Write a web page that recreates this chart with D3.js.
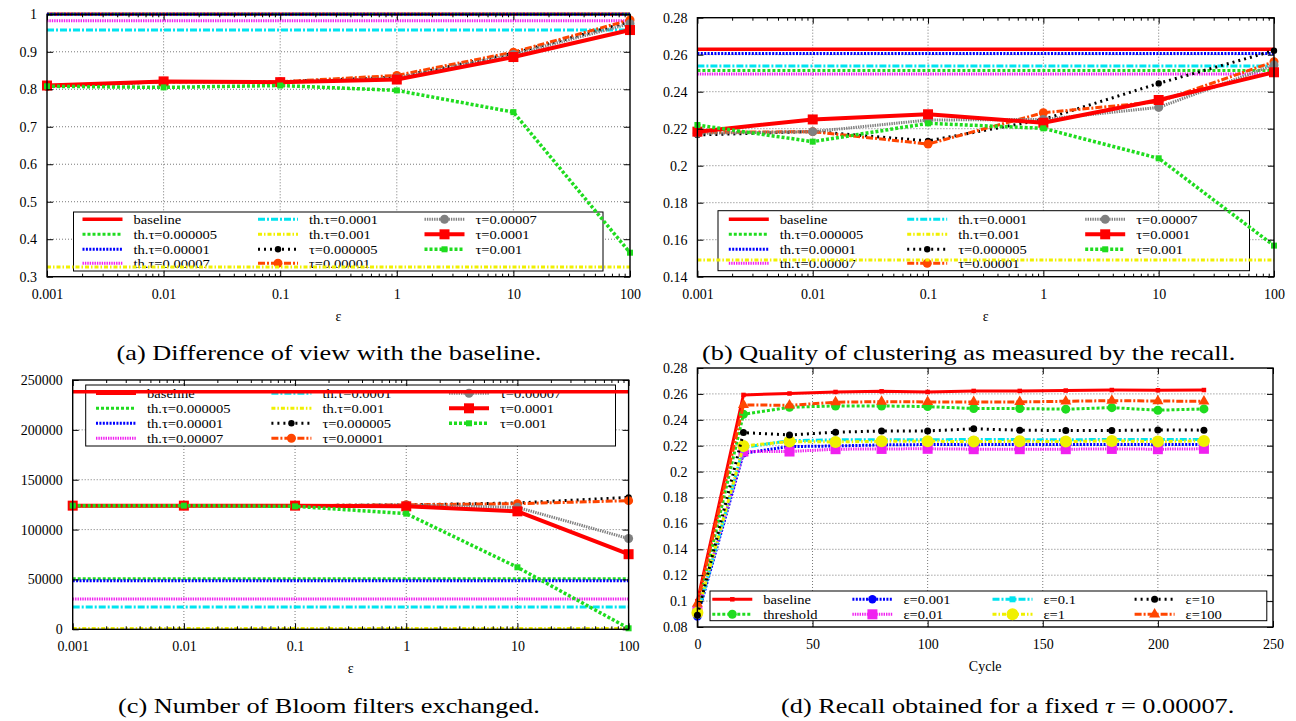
<!DOCTYPE html>
<html>
<head>
<meta charset="utf-8">
<script src="https://cdn.jsdelivr.net/npm/d3@7"></script>
<style>
body { margin: 0; background: #fff; }
svg { display: block; }
text { font-family: "Liberation Serif", Tinos, "Times New Roman", Times, "Nimbus Roman", "DejaVu Serif", serif; fill: #000; }
</style>
</head>
<body>
<svg id="fig" width="1296" height="721"></svg>
<script>
// x values
var epsilon = [0.001, 0.01, 0.1, 1, 10, 100]
var cycles = [0, 20, 40, 60, 80, 100, 120, 140, 160, 180, 200, 220]

// tick labels
var viewTicks = [0.3, 0.4, 0.5, 0.6, 0.7, 0.8, 0.9, 1]
var recallTicks = [0.14, 0.16, 0.18, 0.2, 0.22, 0.24, 0.26, 0.28]
var bloomTicks = [0, 50000, 100000, 150000, 200000, 250000]
var cycleTicks = [0, 50, 100, 150, 200, 250]
var cycleRecallTicks = [0.08, 0.1, 0.12, 0.14, 0.16, 0.18, 0.2, 0.22, 0.24, 0.26, 0.28]

// series names
var epsKeys = ['baseline', 'th5', 'th10', 'th70', 'th100', 'th1000', 't5', 't10', 't70', 't100', 't1000']
var epsLabels = ['baseline', 'th.τ=0.000005', 'th.τ=0.00001', 'th.τ=0.00007', 'th.τ=0.0001', 'th.τ=0.001',
    'τ=0.000005', 'τ=0.00001', 'τ=0.00007', 'τ=0.0001', 'τ=0.001']
var cycKeys = ['cbase', 'thr', 'e0', 'e1', 'e2', 'e3', 'e4', 'e5']
var cycLabels = ['baseline', 'threshold', 'ε=0.001', 'ε=0.01', 'ε=0.1', 'ε=1', 'ε=10', 'ε=100']

// (a) difference of view: flat = baseline + th.τ lines, then the τ curves
var viewFlat = [1, 1, 1, 0.983, 0.958, 0.326]
var viewT5 = [0.808, 0.82, 0.82, 0.832, 0.896, 0.98]
var viewT10 = [0.808, 0.82, 0.82, 0.837, 0.899, 0.985]
var viewT70 = [0.808, 0.82, 0.819, 0.83, 0.893, 0.975]
var viewT100 = [0.81, 0.821, 0.819, 0.826, 0.886, 0.958]
var viewT1000 = [0.808, 0.805, 0.81, 0.797, 0.739, 0.364]

// (b) recall
var recallFlat = [0.2629, 0.2514, 0.2607, 0.2496, 0.2539, 0.149]
var recallT5 = [0.2166, 0.2185, 0.2134, 0.225, 0.2445, 0.2622]
var recallT10 = [0.218, 0.2184, 0.2117, 0.2286, 0.2346, 0.2562]
var recallT70 = [0.2175, 0.2184, 0.2247, 0.225, 0.2315, 0.2544]
var recallT100 = [0.2184, 0.225, 0.2278, 0.2232, 0.2355, 0.2505]
var recallT1000 = [0.222, 0.213, 0.2229, 0.2202, 0.204, 0.1568]

// (c) bloom filters exchanged
var bloomFlat = [238300, 50600, 48700, 30300, 22400, 700]
var bloomT5 = [124000, 124000, 124000, 124800, 126700, 132300]
var bloomT10 = [124000, 124000, 124000, 124800, 126000, 129000]
var bloomT70 = [124000, 124000, 124000, 124500, 122300, 91000]
var bloomT100 = [124000, 124000, 124000, 123300, 118300, 75300]
var bloomT1000 = [124000, 124000, 123300, 116000, 62200, 1000]

// (d) recall over cycles, tau = 0.00007
var cycBaseline = [0.1, 0.2592, 0.2603, 0.2615, 0.262, 0.2615, 0.2623, 0.2623, 0.2626, 0.263, 0.2628, 0.263]
var cycThreshold = [0.093, 0.2443, 0.2497, 0.2507, 0.2507, 0.2502, 0.2487, 0.2487, 0.2482, 0.2494, 0.2474, 0.2484]
var cycEps0001 = [0.088, 0.2142, 0.2193, 0.2198, 0.2206, 0.2209, 0.2208, 0.221, 0.2209, 0.221, 0.2208, 0.221]
var cycEps001 = [0.092, 0.2155, 0.2155, 0.2173, 0.2175, 0.2176, 0.2173, 0.2173, 0.2173, 0.2175, 0.2173, 0.2176]
var cycEps01 = [0.089, 0.2187, 0.2239, 0.2245, 0.2247, 0.2246, 0.2248, 0.2247, 0.2246, 0.2248, 0.2247, 0.2247]
var cycEps1 = [0.091, 0.2198, 0.2232, 0.2229, 0.2234, 0.2234, 0.2232, 0.2234, 0.2232, 0.2237, 0.2232, 0.2237]
var cycEps10 = [0.089, 0.2301, 0.2283, 0.2304, 0.2314, 0.2314, 0.233, 0.232, 0.2317, 0.2317, 0.2322, 0.232]
var cycEps100 = [0.098, 0.2515, 0.2512, 0.2536, 0.254, 0.2538, 0.2538, 0.2538, 0.2543, 0.2548, 0.2545, 0.2543]

var styles = {
    baseline: { c: '#ff0000', w: 3.5 },
    th5: { c: '#1fdc1f', w: 3, d: '3,2' },
    th10: { c: '#0000ff', w: 3, d: '2,1.4' },
    th70: { c: '#f020f0', w: 3, d: '1.4,1' },
    th100: { c: '#00e4f0', w: 3, d: '7,2,2,2' },
    th1000: { c: '#f0f000', w: 3, d: '4,2,1.5,2' },
    t5: { c: '#000000', w: 3, d: '2,4', m: 'circle', s: 3.2 },
    t10: { c: '#ff4500', w: 3, d: '7,2,2,2', m: 'circle', s: 4.5 },
    t70: { c: '#808080', w: 3, d: '1.4,1', m: 'circle', s: 4.5 },
    t100: { c: '#ff0000', w: 4, m: 'square', s: 10 },
    t1000: { c: '#1fdc1f', w: 3.5, d: '3,2', m: 'square', s: 6 },
    cbase: { c: '#ff0000', w: 3, m: 'square', s: 4.5 },
    thr: { c: '#1fdc1f', w: 3, d: '3,2', m: 'circle', s: 4.5 },
    e0: { c: '#0000ff', w: 3, d: '2,1.4', m: 'circle', s: 4.2 },
    e1: { c: '#f020f0', w: 3, d: '1.4,1', m: 'square', s: 10 },
    e2: { c: '#00e4f0', w: 3, d: '7,2,2,2', m: 'square', s: 6 },
    e3: { c: '#f0f000', w: 3, d: '4,2,1.5,2', m: 'circle', s: 6 },
    e4: { c: '#000000', w: 3, d: '2,4', m: 'circle', s: 3.5 },
    e5: { c: '#ff4500', w: 3, d: '7,2,2,2', m: 'triangle', s: 11 }
}

function epsSeries(flat, curves) {
    return epsKeys.map(function (k, i) {
        var vals = i < flat.length ? epsilon.map(function () { return flat[i] }) : curves[i - flat.length]
        return { key: k, label: epsLabels[i], pts: epsilon.map(function (e, j) { return [e, vals[j]] }) }
    })
}

function cycSeries(list) {
    return cycKeys.map(function (k, i) {
        return { key: k, label: cycLabels[i], pts: cycles.map(function (c, j) { return [c, list[i][j]] }) }
    })
}

var svg = d3.select('#fig')
var legendSize = 13, legendSx = 1.12

function symbolPath(st) {
    var t = st.m === 'circle' ? d3.symbolCircle : st.m === 'square' ? d3.symbolSquare : d3.symbolTriangle
    var area = st.m === 'circle' ? Math.PI * st.s * st.s : st.m === 'square' ? st.s * st.s : Math.sqrt(3) / 4 * st.s * st.s
    return d3.symbol().type(t).size(area)()
}

function stroke(sel, st) {
    sel.attr('fill', 'none').attr('stroke', st.c).attr('stroke-width', st.w)
        .attr('stroke-dasharray', st.d || null)
}

function drawPanel(p) {
    var g = svg.append('g')
    var x0 = p.box[0], y0 = p.box[1], x1 = p.box[2], y1 = p.box[3]
    var x = p.log ? d3.scaleLog().domain([0.001, 100]).range([x0, x1])
        : d3.scaleLinear().domain([0, 250]).range([x0, x1])
    var y = d3.scaleLinear().domain(p.yDomain).range([y1, y0])

    // grid
    g.append('g').selectAll('line').data(p.xTicks.slice(1, -1)).join('line')
        .attr('x1', x).attr('x2', x).attr('y1', y0).attr('y2', y1)
        .attr('stroke', '#555').attr('stroke-width', 0.8).attr('stroke-dasharray', '1,2')
    g.append('g').selectAll('line').data(p.yTicks.slice(1, -1)).join('line')
        .attr('x1', x0).attr('x2', x1).attr('y1', y).attr('y2', y)
        .attr('stroke', '#555').attr('stroke-width', 0.8).attr('stroke-dasharray', '1,2')

    // legend
    var L = p.legend
    var lg = g.append('g')
    lg.append('rect').attr('x', L.box[0]).attr('y', L.box[1])
        .attr('width', L.box[2] - L.box[0]).attr('height', L.box[3] - L.box[1])
        .attr('fill', '#fff').attr('stroke', '#000').attr('stroke-width', 1)
    p.series.forEach(function (s, i) {
        var st = styles[s.key]
        var tx = L.cols[Math.floor(i / L.per)], ty = L.rows[i % L.per]
        lg.append('text').attr('font-size', legendSize)
            .attr('transform', 'translate(' + tx + ',' + (ty + 4.5) + ') scale(' + legendSx + ',1)')
            .text(s.label)
        lg.append('line').attr('x1', tx - 51).attr('x2', tx - 11).attr('y1', ty).attr('y2', ty).call(stroke, st)
        if (st.m) lg.append('path').attr('d', symbolPath(st)).attr('fill', st.c)
            .attr('transform', 'translate(' + (tx - 31) + ',' + ty + ')')
    })

    // series
    var line = d3.line().x(function (d) { return x(d[0]) }).y(function (d) { return y(d[1]) })
    p.series.forEach(function (s) {
        var st = styles[s.key]
        g.append('path').datum(s.pts).attr('d', line).call(stroke, st)
            .attr('stroke-linejoin', 'round')
        if (st.m) g.append('g').selectAll('path').data(s.pts).join('path')
            .attr('d', symbolPath(st)).attr('fill', st.c)
            .attr('transform', function (d) { return 'translate(' + x(d[0]) + ',' + y(d[1]) + ')' })
    })

    // border and axes
    g.append('rect').attr('x', x0).attr('y', y0).attr('width', x1 - x0).attr('height', y1 - y0)
        .attr('fill', 'none').attr('stroke', '#000').attr('stroke-width', 1.4)
    var xfmt = function (d) { return String(d) }
    var axes = [
        g.append('g').attr('transform', 'translate(0,' + y1 + ')')
            .call(d3.axisBottom(x).tickValues(p.xTicks).tickFormat(xfmt).tickSize(-6).tickPadding(12)),
        g.append('g').attr('transform', 'translate(0,' + y0 + ')')
            .call(d3.axisTop(x).tickValues(p.xTicks).tickFormat('').tickSize(-6)),
        g.append('g').attr('transform', 'translate(' + x0 + ',0)')
            .call(d3.axisLeft(y).tickValues(p.yTicks).tickFormat(p.yFmt).tickSize(-6).tickPadding(10)),
        g.append('g').attr('transform', 'translate(' + x1 + ',0)')
            .call(d3.axisRight(y).tickValues(p.yTicks).tickFormat('').tickSize(-6))
    ]
    if (p.log) {
        var minor = epsilon.slice(0, -1).flatMap(function (e) { return d3.range(2, 10).map(function (k) { return e * k }) })
        axes.push(g.append('g').attr('transform', 'translate(0,' + y1 + ')')
            .call(d3.axisBottom(x).tickValues(minor).tickFormat('').tickSize(-3)))
        axes.push(g.append('g').attr('transform', 'translate(0,' + y0 + ')')
            .call(d3.axisTop(x).tickValues(minor).tickFormat('').tickSize(-3)))
    }
    axes.forEach(function (a) {
        a.select('.domain').remove()
        a.attr('font-size', 14).attr('font-family', null)
        a.selectAll('line').attr('stroke-width', 1)
    })

    g.append('text').attr('x', (x0 + x1) / 2).attr('y', y1 + 44).attr('text-anchor', 'middle')
        .attr('font-size', 14).text(p.xTitle)
}

var panels = [
    {
        box: [47, 14.3, 630, 276.7], log: true, yDomain: [0.3, 1], xTicks: epsilon, yTicks: viewTicks,
        yFmt: function (d) { return String(+d.toFixed(2)) }, xTitle: 'ε',
        series: epsSeries(viewFlat, [viewT5, viewT10, viewT70, viewT100, viewT1000]),
        legend: { box: [73.5, 212, 603, 271], cols: [133.5, 309, 475.5], rows: [219.3, 234.3, 249.3, 263.3], per: 4 }
    },
    {
        box: [697.4, 17.7, 1274, 276.7], log: true, yDomain: [0.14, 0.28], xTicks: epsilon, yTicks: recallTicks,
        yFmt: function (d) { return String(+d.toFixed(2)) }, xTitle: 'ε',
        series: epsSeries(recallFlat, [recallT5, recallT10, recallT70, recallT100, recallT1000]),
        legend: { box: [718, 210.7, 1249.5, 270.7], cols: [779.8, 958.2, 1136.2], rows: [219.3, 234.3, 249.3, 263.3], per: 4 }
    },
    {
        box: [72.7, 380, 628.6, 629.3], log: true, yDomain: [0, 250000], xTicks: epsilon, yTicks: bloomTicks,
        yFmt: function (d) { return String(d) }, xTitle: 'ε',
        series: epsSeries(bloomFlat, [bloomT5, bloomT10, bloomT70, bloomT100, bloomT1000]),
        legend: { box: [85.7, 385, 615.5, 446], cols: [147, 322.4, 500], rows: [393.3, 408.3, 423.3, 438.3], per: 4 }
    },
    {
        box: [697.4, 368, 1273, 627], log: false, yDomain: [0.08, 0.28], xTicks: cycleTicks, yTicks: cycleRecallTicks,
        yFmt: function (d) { return String(+d.toFixed(2)) }, xTitle: 'Cycle',
        series: cycSeries([cycBaseline, cycThreshold, cycEps0001, cycEps001, cycEps01, cycEps1, cycEps10, cycEps100]),
        legend: { box: [710, 591, 1266.8, 620.7], cols: [763.3, 903.4, 1043.5, 1185.6], rows: [599.3, 614.3], per: 2 }
    }
]

panels.forEach(drawPanel)

// captions
var caps = [
    { parts: [['(a) Difference of view with the baseline.', false]], x: 329, y: 360, anchor: 'middle' },
    { parts: [['(b) Quality of clustering as measured by the recall.', false]], x: 702, y: 360, anchor: 'start' },
    { parts: [['(c) Number of Bloom filters exchanged.', false]], x: 118, y: 713, anchor: 'start' },
    { parts: [['(d) Recall obtained for a fixed ', false], ['τ', true], [' = 0.00007.', false]], x: 781, y: 713, anchor: 'start' }
]
var capNodes = caps.map(function (c) {
    var t = svg.append('text').attr('font-size', 21)
        .attr('text-anchor', c.anchor).attr('transform', 'translate(' + c.x + ',' + c.y + ')')
    c.parts.forEach(function (pt) {
        t.append('tspan').attr('font-style', pt[1] ? 'italic' : null).text(pt[0])
    })
    return t
})
var capScale = 422 / capNodes[2].node().getComputedTextLength()
capNodes.forEach(function (t, i) {
    t.attr('transform', 'translate(' + caps[i].x + ',' + caps[i].y + ') scale(' + capScale + ',1)')
})
</script>
</body>
</html>
